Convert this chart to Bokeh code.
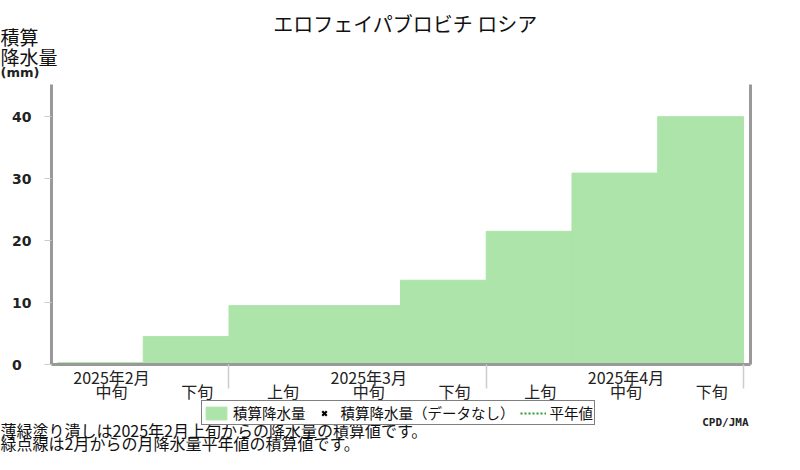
import math
from bokeh.plotting import figure
from bokeh.layouts import column
from bokeh.models import (FixedTicker, LinearAxis, Range1d, Legend, LegendItem,
                          ColumnDataSource, Label)
from bokeh.embed import file_html
from bokeh.resources import INLINE

# ---------------- data ----------------
title_text = "エロフェイパブロビチ ロシア"
months = ["2025年2月", "2025年3月", "2025年4月"]
dekads = ["上旬", "中旬", "下旬"]
# cumulative precipitation (mm) at the end of each dekad, Feb 上旬 .. Apr 下旬
cum_precip = [0.0, 0.3, 4.5, 9.5, 9.5, 13.6, 21.5, 30.9, 40.0]
# no "missing data" marks and no normal-curve values are shown in this chart
missing_marks = [math.nan]
normal_cum = [math.nan, math.nan]
y_ticks = [0, 10, 20, 30, 40]
legend_labels = ["積算降水量", "積算降水量（データなし）", "平年値"]
note_lines = ["薄緑塗り潰しは2025年2月上旬からの降水量の積算値です。",
              "緑点線は2月からの月降水量平年値の積算値です。"]
credit = "CPD/JMA"
y_title = ["積算", "降水量", "(mm)"]

# ---------------- layout constants ----------------
W = 784
TOP_H = 84
FL, FR = 51, W - 750
FRAME_H = 280
AX_H = 42
OVERLAP = 10
BOT_H = 454 - TOP_H - FRAME_H - AX_H + OVERLAP
X0, X1 = 0.93, 9.082
Y0, Y1 = 0.0, 45.2
CJK = "Noto Sans CJK JP"
LABEL_SHIFT = 0.13
GREEN = "#ade4a9"
DOT_GREEN = "#2f9a2f"


def no_align(f):
    try:
        f.frame_align = False
    except Exception:
        pass


def blank_fig(h):
    f = figure(width=W, height=h, output_backend="svg", toolbar_location=None,
               x_range=Range1d(0, W), y_range=Range1d(h, 0),
               min_border=0, x_axis_type=None, y_axis_type=None)
    f.outline_line_color = None
    f.grid.visible = False
    f.background_fill_alpha = 0
    f.border_fill_alpha = 0
    no_align(f)
    return f


def add_label(f, txt, x, y, size, align="left", font=CJK, style="normal",
              color="#111111", baseline="top"):
    f.add_layout(Label(x=x, y=y, text=txt, text_font=font, text_font_size=size,
                       text_font_style=style, text_color=color, text_align=align,
                       text_baseline=baseline))


# ---------------- top strip: title and y-axis title ----------------
ptop = blank_fig(TOP_H)
add_label(ptop, title_text, 405, 8, "20px", align="center")
add_label(ptop, y_title[0], 0, 22, "19px")
add_label(ptop, y_title[1], 0, 42, "19px")
add_label(ptop, y_title[2], 0, 64, "13px", font="DejaVu Sans", style="bold",
          color="#222222")

# ---------------- main chart ----------------
n = len(cum_precip)
idx = list(range(n))
src = ColumnDataSource(dict(x=[i + 0.5 for i in idx], top=cum_precip))

p = figure(width=W, height=FRAME_H + AX_H, output_backend="svg", toolbar_location=None,
           x_range=Range1d(X0, X1), y_range=Range1d(Y0, Y1),
           min_border_left=FL, min_border_right=FR, min_border_top=0,
           min_border_bottom=AX_H, x_axis_type=None, y_axis_type=None)
p.outline_line_color = None
p.background_fill_color = "white"
p.border_fill_color = "white"
no_align(p)

bars = p.vbar(x="x", top="top", width=1.0, bottom=0, source=src,
              fill_color=GREEN, line_color=GREEN, line_width=1)

yax = LinearAxis(ticker=FixedTicker(ticks=y_ticks, minor_ticks=[]))
yax.axis_line_color = "#999999"
yax.axis_line_width = 3
yax.major_tick_line_color = "#cccccc"
yax.major_tick_out = 7
yax.major_tick_in = 0
yax.minor_tick_line_color = None
yax.major_label_standoff = 13
yax.major_label_text_font = "DejaVu Sans"
yax.major_label_text_font_style = "bold"
yax.major_label_text_font_size = "14px"
yax.major_label_text_color = "#222222"
yax.major_label_overrides = {0: "0\u2007"}
p.add_layout(yax, "left")

rax = LinearAxis(ticker=FixedTicker(ticks=[], minor_ticks=[]))
rax.axis_line_color = "#999999"
rax.axis_line_width = 3
rax.major_tick_line_color = None
rax.minor_tick_line_color = None
rax.major_label_text_font_size = "0px"
p.add_layout(rax, "right")

label_pos = [i + 0.5 + LABEL_SHIFT for i in idx]
month_ends = [3 * (m + 1) for m in range(len(months))]
overrides = {}
for i in idx:
    m, d = divmod(i, 3)
    if d == 1:
        overrides[label_pos[i]] = months[m] + "\n" + dekads[d]
    else:
        overrides[label_pos[i]] = "\n" + dekads[d]
xax = LinearAxis(ticker=FixedTicker(ticks=label_pos, minor_ticks=month_ends))
xax.axis_line_color = "#999999"
xax.axis_line_width = 3
xax.major_tick_line_color = None
xax.minor_tick_line_color = "#cccccc"
xax.minor_tick_line_width = 1.5
xax.minor_tick_out = 24
xax.minor_tick_in = 0
xax.major_tick_out = 0
xax.major_tick_in = 0
xax.major_label_standoff = -24
xax.major_label_overrides = overrides
xax.major_label_text_font = CJK
xax.major_label_text_font_size = "16px"
xax.major_label_text_color = "#222222"
xax.major_label_text_line_height = 0.6
p.add_layout(xax, "below")

p.ygrid.ticker = FixedTicker(ticks=y_ticks)
p.ygrid.grid_line_color = "#d0d0d0"
p.ygrid.grid_line_width = 1.5
p.xgrid.visible = False

# ---------------- bottom strip: legend, credit, notes ----------------
pbot = blank_fig(BOT_H)
pbot.margin = (-OVERLAP, 0, 0, 0)
r_bar = pbot.vbar(x=missing_marks, top=missing_marks, width=1, fill_color=GREEN,
                  line_color=GREEN)
r_x = pbot.scatter(x=missing_marks, y=missing_marks, marker="x", size=9,
                   line_color="black", line_width=2.2)
r_norm = pbot.line(x=normal_cum, y=normal_cum, line_color=DOT_GREEN, line_width=2,
                   line_dash="2 2")
legend = Legend(items=[LegendItem(label=legend_labels[0], renderers=[r_bar]),
                       LegendItem(label=legend_labels[1], renderers=[r_x]),
                       LegendItem(label=legend_labels[2], renderers=[r_norm])],
                orientation="horizontal", location=(201, BOT_H - 29), margin=0,
                padding=1, spacing=5, glyph_width=26, glyph_height=16,
                label_standoff=4, border_line_color="black", border_line_width=1.5,
                background_fill_color="white", background_fill_alpha=1.0,
                label_text_font=CJK, label_text_font_size="14.5px",
                label_text_color="#111111", label_height=14)
pbot.add_layout(legend, "center")
add_label(pbot, credit, 748, 19, "11px", align="right", font="DejaVu Sans Mono",
          style="bold", color="#222222")
add_label(pbot, note_lines[0], 0, 21, "16px")
add_label(pbot, note_lines[1], 0, 34, "16px")

layout = column(ptop, p, pbot, spacing=0)
open("out.html", "w").write(file_html(layout, INLINE))
